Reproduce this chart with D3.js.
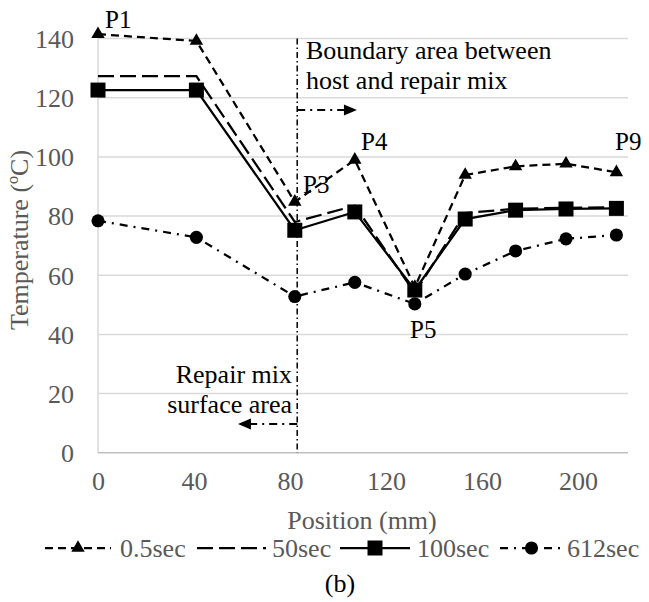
<!DOCTYPE html>
<html>
<head>
<meta charset="utf-8">
<script src="https://cdn.jsdelivr.net/npm/d3@7"></script>
</head>
<body style="margin:0">
<svg id="chart" width="649" height="602" style="font-family: 'Liberation Serif'"></svg>
<script>
// ---- data ----
const positions = [0, 41, 82, 107, 132, 153, 174, 195, 216];
const series05  = [141.5, 139.2, 84.8, 99.0, 56.0, 93.9, 96.8, 97.7, 94.8];
const series50  = [127.3, 127.3, 78.0, 83.5, 54.0, 81.0, 82.5, 82.8, 83.0];
const series100 = [122.6, 122.6, 75.2, 81.4, 55.0, 79.0, 82.0, 82.4, 82.6];
const series612 = [78.4, 72.8, 52.8, 57.6, 50.3, 60.4, 68.2, 72.3, 73.6];
const seriesNames = ["0.5sec", "50sec", "100sec", "612sec"];
const xTicks = [0, 40, 80, 120, 160, 200];
const yTicks = [0, 20, 40, 60, 80, 100, 120, 140];
const pointLabels = ["P1", "P3", "P4", "P5", "P9"];
const boundaryPos = 83;

// ---- setup ----
const FONT = "'Liberation Serif'";
const svg = d3.select("#chart");
const x = d3.scaleLinear().domain([0, 220]).range([98, 626]);
const y = d3.scaleLinear().domain([0, 140]).range([452.7, 38.6]);
const gray = "#595959";
const FS = 26;

function txt(xx, yy, s, size, fill, anchor) {
  return svg.append("text").attr("x", xx).attr("y", yy)
    .style("font-family", FONT).style("font-size", size + "px").attr("fill", fill)
    .attr("text-anchor", anchor || "start").text(s);
}

// gridlines
svg.append("g").selectAll("line").data(yTicks.filter(d => d > 0)).join("line")
  .attr("x1", x(0)).attr("x2", 628)
  .attr("y1", d => y(d)).attr("y2", d => y(d))
  .attr("stroke", "#d9d9d9").attr("stroke-width", 1.5);

// axes lines
svg.append("line").attr("x1", x(0)).attr("x2", x(0)).attr("y1", y(140)).attr("y2", y(0))
  .attr("stroke", "#d9d9d9").attr("stroke-width", 1.5);
svg.append("line").attr("x1", x(0)).attr("x2", 628).attr("y1", y(0)).attr("y2", y(0))
  .attr("stroke", "#bfbfbf").attr("stroke-width", 1.5);

// y tick labels
const yAxis = d3.axisLeft(y).tickValues(yTicks).tickSize(0).tickPadding(0);
const gy = svg.append("g").attr("transform", "translate(74,0)").call(yAxis)
  .attr("font-family", null).attr("font-size", null);
gy.select(".domain").remove();
gy.selectAll("text").style("font-size", FS + "px").attr("fill", gray)
  .style("font-family", FONT).attr("dy", "0.34em");

// x tick labels
const xAxis = d3.axisBottom(x).tickValues(xTicks).tickSize(0).tickPadding(0);
const gx = svg.append("g").attr("transform", "translate(0,490)").call(xAxis)
  .attr("font-family", null).attr("font-size", null);
gx.select(".domain").remove();
gx.selectAll("text").style("font-size", FS + "px").attr("fill", gray)
  .style("font-family", FONT).attr("dy", 0);

// axis titles
svg.append("text").attr("transform", "translate(28,240) rotate(-90)")
  .style("font-family", FONT).style("font-size", FS + "px")
  .attr("text-anchor", "middle").attr("fill", gray)
  .text("Temperature (\u00BAC)");
txt(362, 529, "Position (mm)", FS, gray, "middle");

// boundary vertical line
svg.append("line").attr("x1", x(boundaryPos)).attr("x2", x(boundaryPos))
  .attr("y1", y(140)).attr("y2", y(0))
  .attr("stroke", "#000").attr("stroke-width", 1.5).attr("stroke-dasharray", "6,3,1.5,3");

// arrows
function arrow(y0, xFrom, xTip, dir) {
  const yy = y(y0);
  svg.append("line").attr("x1", x(xFrom)).attr("x2", x(xTip) - dir * 10)
    .attr("y1", yy).attr("y2", yy)
    .attr("stroke", "#000").attr("stroke-width", 2).attr("stroke-dasharray", "8,5,2,5");
  const tx = x(xTip);
  svg.append("path")
    .attr("d", `M${tx},${yy} L${tx - dir * 13},${yy - 5.5} L${tx - dir * 13},${yy + 5.5} Z`)
    .attr("fill", "#000");
}
arrow(115.9, boundaryPos, 107.9, 1);
arrow(9.7, boundaryPos, 58.3, -1);

// annotation text
txt(306, 59, "Boundary area between", 26, "#000");
txt(306, 89, "host and repair mix", 26, "#000");
txt(292, 383, "Repair mix", 26, "#000", "end");
txt(292, 413, "surface area", 26, "#000", "end");

// series
const seriesDefs = [
  { name: seriesNames[0], values: series05,  dash: "8,5",     marker: d3.symbolTriangle, size: 78 },
  { name: seriesNames[1], values: series50,  dash: "16,6",    marker: null },
  { name: seriesNames[2], values: series100, dash: null,      marker: d3.symbolSquare, size: 225 },
  { name: seriesNames[3], values: series612, dash: "8,6,2,6", marker: d3.symbolCircle, size: 135 }
];
const line = d3.line().x(d => x(d[0])).y(d => y(d[1]));
seriesDefs.forEach(s => {
  const pts = positions.map((p, i) => [p, s.values[i]]);
  svg.append("path").datum(pts).attr("d", line).attr("fill", "none")
    .attr("stroke", "#000").attr("stroke-width", 2.25)
    .attr("stroke-dasharray", s.dash);
  if (s.marker) {
    svg.append("g").selectAll("path").data(pts).join("path")
      .attr("transform", d => `translate(${x(d[0])},${y(d[1])})`)
      .attr("d", d3.symbol().type(s.marker).size(s.size)).attr("fill", "#000");
  }
});

// point labels
const labelPos = { P1: [105, 28], P3: [303, 193], P4: [361, 150], P5: [410, 338], P9: [615, 150] };
pointLabels.forEach(n => {
  const [lx, ly] = labelPos[n];
  txt(lx, ly, n, 25, "#000");
});

// legend
const legendItems = [
  { line: [45, 111], text: 120 },
  { line: [197, 266], text: 272 },
  { line: [340, 410], text: 417 },
  { line: [500, 563], text: 567 }
];
const ly = 548;
seriesDefs.forEach((s, i) => {
  const it = legendItems[i];
  svg.append("line").attr("x1", it.line[0]).attr("x2", it.line[1]).attr("y1", ly).attr("y2", ly)
    .attr("stroke", "#000").attr("stroke-width", 2.25).attr("stroke-dasharray", s.dash);
  if (s.marker) {
    svg.append("path").attr("transform", `translate(${(it.line[0] + it.line[1]) / 2},${ly})`)
      .attr("d", d3.symbol().type(s.marker).size(s.size)).attr("fill", "#000");
  }
  txt(it.text, 557, s.name, FS, gray);
});

// caption
txt(340, 592, "(b)", FS, "#000", "middle");
</script>
</body>
</html>
